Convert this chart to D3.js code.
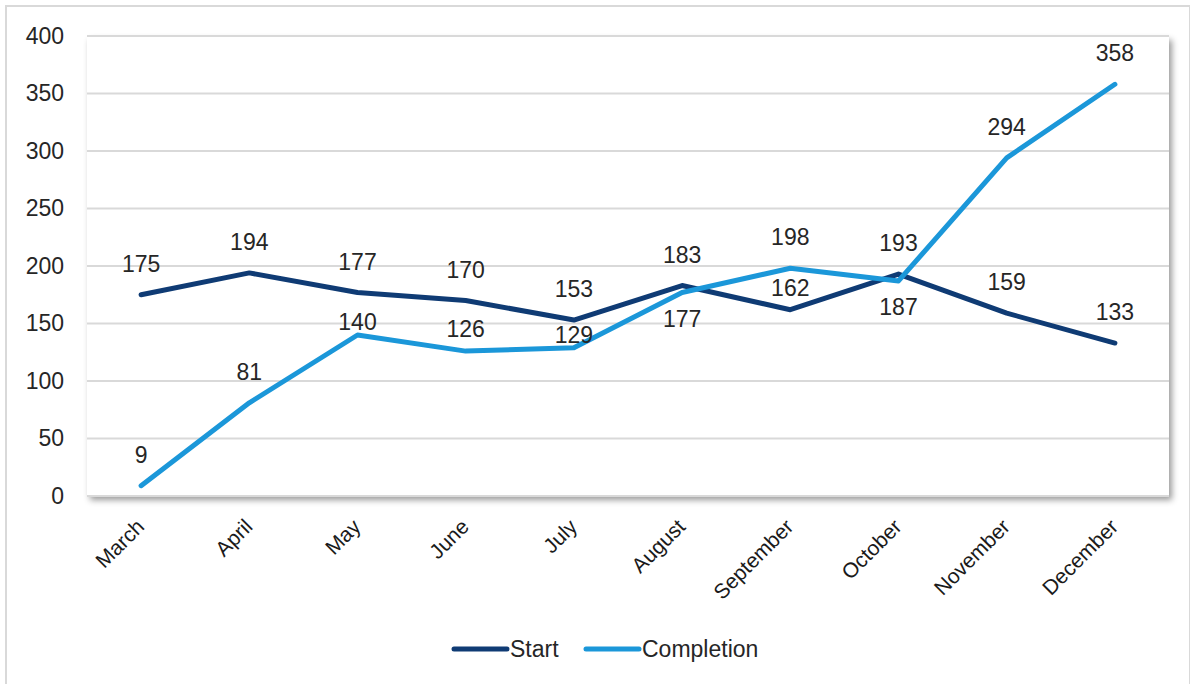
<!DOCTYPE html>
<html><head><meta charset="utf-8">
<script src="https://cdn.jsdelivr.net/npm/d3@7"></script>
<style>
html,body{margin:0;padding:0;background:#fff;}
svg{display:block;font-family:"Liberation Sans",Arial,sans-serif;}
</style></head>
<body><svg id="c" width="1190" height="684"></svg>
<script>
const categories = ["March","April","May","June","July","August","September","October","November","December"];
const startValues = [175,194,177,170,153,183,162,193,159,133];
const completionValues = [9,81,140,126,129,177,198,187,294,358];
const yTicks = [0,50,100,150,200,250,300,350,400];
const seriesNames = ["Start","Completion"];
// label placement relative to point: "above" / "near" / "close" / "below"
const startPlacement = ["above","above","above","above","above","above","near","above","above","above"];
const completionPlacement = ["above","above","close","near","close","below","above","below","above","above"];

const W = 1190, H = 684;
const m = {left:87, right:21, top:36, bottom:188};
const svg = d3.select("#c");
const defs = svg.append("defs");
const f = defs.append("filter").attr("id","sh").attr("x","-5%").attr("y","-5%").attr("width","110%").attr("height","115%");
f.append("feDropShadow").attr("dx",3).attr("dy",4).attr("stdDeviation",3).attr("flood-color","#000").attr("flood-opacity",0.4);

svg.append("rect").attr("x",6).attr("y",6).attr("width",W-6).attr("height",H).attr("fill","#fff").attr("stroke","#d9d9d9").attr("stroke-width",2);

const x = d3.scalePoint().domain(categories).range([m.left, W-m.right]).padding(0.5);
const y = d3.scaleLinear().domain([0,400]).range([H-m.bottom, m.top]);

const pw = W-m.right-m.left, ph = y(0)-y(400);
svg.append("rect").attr("x",m.left).attr("y",m.top).attr("width",pw).attr("height",ph)
  .attr("fill","#fff").attr("filter","url(#sh)");

// gridlines
svg.append("g").selectAll("line").data(yTicks).join("line")
  .attr("x1",m.left).attr("x2",W-m.right).attr("y1",d=>y(d)).attr("y2",d=>y(d))
  .attr("stroke","#d9d9d9").attr("stroke-width",2);

// y axis
const ya = svg.append("g").attr("transform",`translate(${m.left},0)`)
  .call(d3.axisLeft(y).tickValues(yTicks).tickSize(0).tickPadding(23));
ya.select(".domain").remove();
ya.selectAll("text").attr("font-size",23).attr("fill","#262626").attr("font-family","Liberation Sans, Arial, sans-serif");

// x axis
const xa = svg.append("g").attr("transform",`translate(0,${y(0)})`)
  .call(d3.axisBottom(x).tickSize(0).tickPadding(0));
xa.select(".domain").remove();
xa.selectAll("text").attr("font-size",21).attr("fill","#1a1a1a")
  .attr("font-family","Liberation Sans, Arial, sans-serif")
  .attr("text-anchor","end").attr("dy",null).attr("y",0)
  .attr("transform","translate(4,32) rotate(-45)");

const colors = ["#0f3b74","#1b97d9"];
const line = d3.line().x((d,i)=>x(categories[i])).y(d=>y(d));
const series = [
  {name:seriesNames[0], values:startValues, place:startPlacement, color:colors[0]},
  {name:seriesNames[1], values:completionValues, place:completionPlacement, color:colors[1]}
];
series.forEach(s=>{
  svg.append("path").datum(s.values).attr("d",line).attr("fill","none")
    .attr("stroke",s.color).attr("stroke-width",5).attr("stroke-linecap","round").attr("stroke-linejoin","round");
});
const offsets = {above:-31, near:-22, close:-13, below:26};
series.forEach(s=>{
  svg.append("g").selectAll("text").data(s.values).join("text")
    .attr("x",(d,i)=>x(categories[i]))
    .attr("y",(d,i)=>y(d)+offsets[s.place[i]])
    .attr("dy","0.35em").attr("text-anchor","middle")
    .attr("font-size",23).attr("fill","#262626").text(d=>d);
});

// legend
const lg = svg.append("g");
const legendItems = [{name:seriesNames[0],color:colors[0],x:454},{name:seriesNames[1],color:colors[1],x:586}];
legendItems.forEach(it=>{
  lg.append("line").attr("x1",it.x).attr("x2",it.x+53).attr("y1",649).attr("y2",649)
    .attr("stroke",it.color).attr("stroke-width",5).attr("stroke-linecap","round");
  lg.append("text").attr("x",it.x+56).attr("y",649).attr("dy","0.35em")
    .attr("font-size",23).attr("fill","#262626").text(it.name);
});
</script></body></html>
